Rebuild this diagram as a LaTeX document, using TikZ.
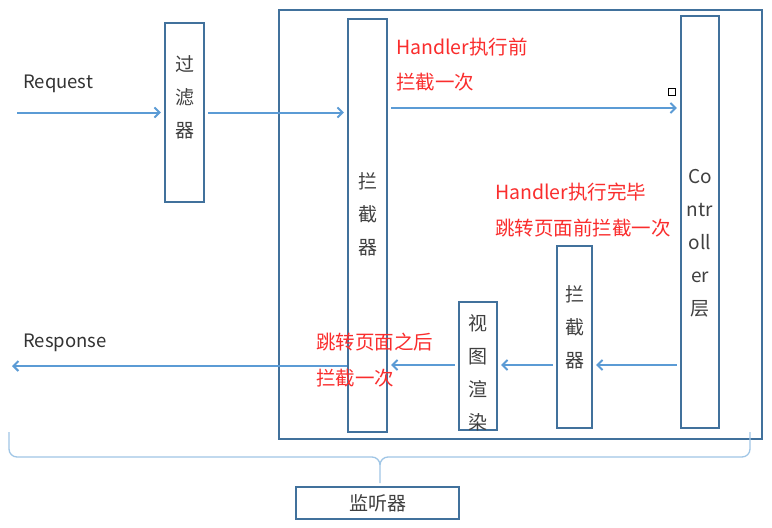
\documentclass[tikz,border=0pt]{standalone}
\usepackage{fontspec}
\setmainfont{Noto Sans CJK SC}
\usetikzlibrary{arrows.meta}
\definecolor{boxc}{RGB}{65,113,156}
\definecolor{arrc}{RGB}{91,155,213}
\definecolor{redc}{RGB}{250,45,45}
\definecolor{bracec}{RGB}{160,198,230}
\begin{document}
\begin{tikzpicture}[x=1pt,y=-1pt,
 box/.style={draw=boxc,line width=2.2pt,inner sep=0pt},
 arr/.style={draw=arrc,line width=2pt,shorten <=3pt,shorten >=3pt,-{Straight Barb[length=5pt,width=10pt]}},
 vtext/.style={font=\fontsize{19}{33}\selectfont,align=center,inner sep=0pt,text=black!75},
 rtext/.style={font=\fontsize{19.5}{24}\selectfont,inner sep=0pt,text=redc,anchor=base west},
 btext/.style={font=\fontsize{18.5}{22}\selectfont,inner sep=0pt,text=black!80,anchor=base west}]
\useasboundingbox (0,0) rectangle (772,528);
\fill[white] (0,0) rectangle (772,528);
% boxes
\node[box,minimum width=483pt,minimum height=429pt] (outer) at (520.5,224.5) {};
\node[box,minimum width=39pt,minimum height=179pt] (filter) at (184.5,112.5) {};
\node[box,minimum width=39pt,minimum height=413pt] (intc) at (367.5,225.5) {};
\node[box,minimum width=38pt,minimum height=412pt] (ctrl) at (700,222) {};
\node[box,minimum width=35pt,minimum height=182pt] (int2) at (574.5,337) {};
\node[box,minimum width=38pt,minimum height=128pt] (view) at (478,366) {};
\node[box,minimum width=163pt,minimum height=32pt] (listener) at (377.5,503) {};
% box texts
\node[vtext] (tfilter) at (184.5,97) {过\\滤\\器};
\node[vtext] (tintc) at (368,214) {拦\\截\\器};
\node[vtext] (tctrl) at (700,243) {Co\\ntr\\oll\\er\\层};
\node[vtext] (tint2) at (575,327.5) {拦\\截\\器};
\node[vtext] (tview) at (478,373) {视\\图\\渲\\染};
\node[font=\fontsize{19}{22}\selectfont,inner sep=0pt,text=black!75] (tlistener) at (377.5,503) {监听器};
% small square
\node[draw=black,line width=0.9pt,minimum size=7pt,inner sep=0pt] (sq) at (672,91.5) {};
% labels
\node[btext] (req) at (23,88) {Request};
\node[btext] (resp) at (23,347) {Response};
\node[rtext] (r1a) at (396,54) {Handler执行前};
\node[rtext] (r1b) at (396,89) {拦截一次};
\node[rtext] (r2a) at (495,199) {Handler执行完毕};
\node[rtext] (r2b) at (495,235) {跳转页面前拦截一次};
\node[rtext] (r3a) at (316,349) {跳转页面之后};
\node[rtext] (r3b) at (316,385) {拦截一次};
% arrows
\coordinate (reqstart) at (17,112.5);
\coordinate (y1) at (0,108);
\coordinate (y2) at (0,365);
\coordinate (respend) at (12,366);
\draw[arr,shorten <=0pt] (reqstart) -- (filter.west);
\draw[arr] (filter.east) -- (intc.west |- filter.east);
\draw[arr] (intc.east |- y1) -- (ctrl.west |- y1);
\draw[arr] (ctrl.west |- y2) -- (int2.east |- y2);
\draw[arr] (int2.west |- y2) -- (view.east |- y2);
\draw[arr] (view.west |- y2) -- (intc.east |- y2);
\draw[arr,shorten <=0pt,shorten >=0pt] (intc.west |- respend) -- (respend);
% brace
\coordinate (bl) at (9,432);
\coordinate (br) at (750,432);
\coordinate (btip) at (380,483);
\draw[bracec,line width=1.3pt]
  (bl) -- (9,449) to[out=-90,in=180] (17,457) -- (372,457) to[out=0,in=90] (380,465) -- (btip)
  (380,465) to[out=90,in=180] (388,457) -- (742,457) to[out=0,in=-90] (750,449) -- (br);
\end{tikzpicture}
\end{document}
